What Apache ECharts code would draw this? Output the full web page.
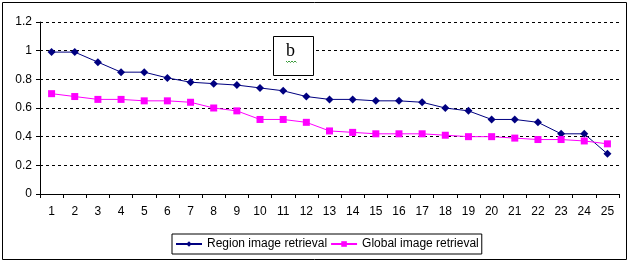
<!DOCTYPE html>
<html>
<head>
<meta charset="utf-8">
<script src="https://cdn.jsdelivr.net/npm/echarts@6/dist/echarts.min.js"></script>
<style>
html,body{margin:0;padding:0;background:#fff;}
#chart{width:629px;height:263px;}
</style>
</head>
<body>
<div id="chart"></div>
<script>
const categories = ['1','2','3','4','5','6','7','8','9','10','11','12','13','14','15','16','17','18','19','20','21','22','23','24','25'];
const regionValues = [0.99,0.99,0.92,0.85,0.85,0.81,0.78,0.77,0.76,0.74,0.72,0.68,0.66,0.66,0.65,0.65,0.64,0.60,0.58,0.52,0.52,0.50,0.42,0.42,0.28];
const globalValues = [0.70,0.68,0.66,0.66,0.65,0.65,0.64,0.60,0.58,0.52,0.52,0.50,0.44,0.43,0.42,0.42,0.42,0.41,0.40,0.40,0.39,0.38,0.38,0.37,0.35];
const seriesNames = ['Region image retrieval','Global image retrieval'];

const chart = echarts.init(document.getElementById('chart'), null, {renderer:'canvas'});
const font = 'Liberation Sans, Arial, sans-serif';
chart.setOption({
  animation:false,
  backgroundColor:'#fff',
  grid:{left:40,right:10,top:22,bottom:69},
  xAxis:{
    type:'category',
    data:categories,
    boundaryGap:true,
    axisLine:{lineStyle:{color:'#000',width:1}},
    axisTick:{show:true,alignWithLabel:false,length:4,lineStyle:{color:'#000'}},
    axisLabel:{color:'#000',fontSize:12,fontFamily:font,margin:12,interval:0},
    splitLine:{show:false}
  },
  yAxis:{
    type:'value',
    min:0,max:1.2,interval:0.2,
    axisLine:{show:true,lineStyle:{color:'#000',width:1}},
    axisTick:{show:true,length:4,lineStyle:{color:'#000'}},
    axisLabel:{color:'#000',fontSize:12,fontFamily:font,margin:8,
      formatter:v=>String(Number(v.toFixed(1)))},
    splitLine:{show:true,lineStyle:{color:'#000',type:[3,3],width:1}}
  },
  legend:{
    left:172,top:234,
    orient:'horizontal',
    borderColor:'#000',borderWidth:1,
    padding:[4,3,4,3],
    itemGap:3,
    itemWidth:26,itemHeight:7,
    textStyle:{color:'#000',fontSize:12,fontFamily:font},
    data:seriesNames
  },
  series:[
    {name:seriesNames[0],type:'line',data:regionValues,
     symbol:'diamond',symbolSize:8,
     lineStyle:{color:'#000080',width:1},
     itemStyle:{color:'#000080'}},
    {name:seriesNames[1],type:'line',data:globalValues,
     symbol:'rect',symbolSize:7,
     lineStyle:{color:'#ff00ff',width:1},
     itemStyle:{color:'#ff00ff'}}
  ],
  graphic:[
    {type:'rect',shape:{x:2.5,y:2.5,width:624,height:257},style:{fill:null,stroke:'#000',lineWidth:1},silent:true},
    {type:'rect',shape:{x:273.5,y:36.5,width:40,height:39},style:{fill:'#fff',stroke:'#000',lineWidth:1},z:10},
    {type:'text',left:286,top:42,style:{text:'b',fill:'#000',font:'18px "Liberation Serif", "Times New Roman", serif'},z:11},
    {type:'polyline',shape:{points:[[286,61],[287.5,62.5],[289,61],[290.5,62.5],[292,61],[293.5,62.5],[295,61],[296.5,62.5]]},style:{stroke:'#3a9a3a',lineWidth:1,fill:null},z:11}
  ]
});
</script>
</body>
</html>
